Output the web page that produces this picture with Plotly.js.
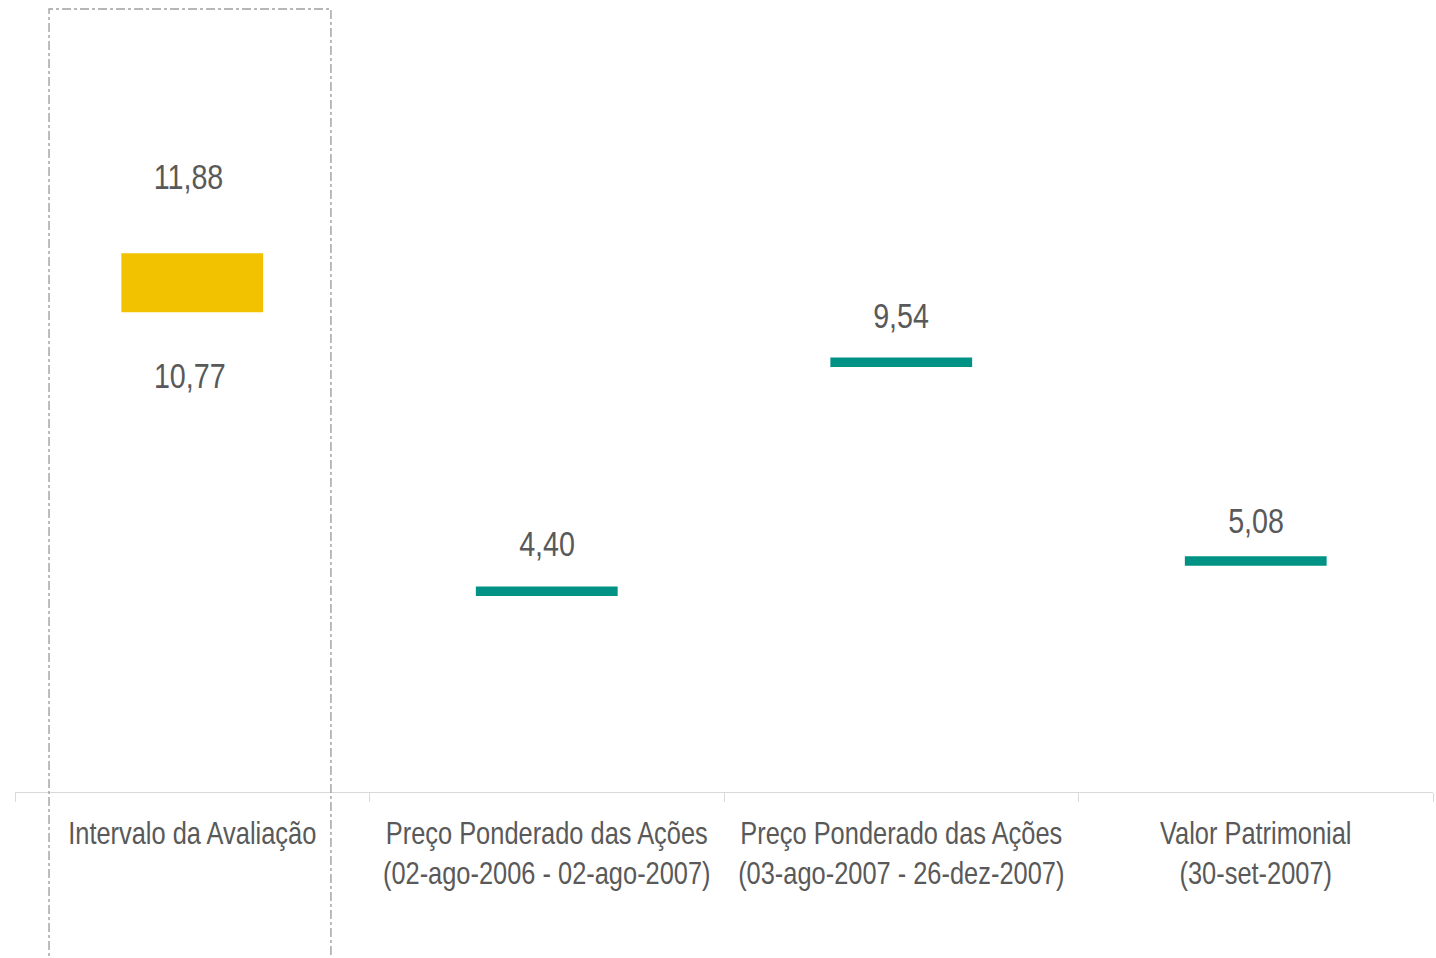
<!DOCTYPE html>
<html><head><meta charset="utf-8">
<script src="https://cdn.plot.ly/plotly-3.0.1.min.js"></script>
<style>html,body{margin:0;padding:0;background:#fff}#chart{width:1436px;height:958px}</style>
</head><body><div id="chart"></div>
<script>
// ---- data ----
const categorias = [
  "Intervalo da Avaliação",
  "Preço Ponderado das Ações<br>(02-ago-2006 - 02-ago-2007)",
  "Preço Ponderado das Ações<br>(03-ago-2007 - 26-dez-2007)",
  "Valor Patrimonial<br>(30-set-2007)"
];
const intervaloMin = [10.77];
const intervaloMax = [11.88];
const referencias = [4.40, 9.54, 5.08];

// ---- style ----
const FONT = "'Liberation Sans', Arial, sans-serif";
const GRAY = "#595959";
const GOLD = "#F2C100";
const TEAL = "#009385";
const NARROW = 0.82;   // horizontal squeeze to imitate a narrow typeface
const espessura = 0.21;
const labelShift = [43, 42, 36];
const fmt = v => v.toFixed(2).replace('.', ',');

const traces = [
  {
    type: 'bar', x: [categorias[0]], base: intervaloMin,
    y: intervaloMin.map((v, i) => intervaloMax[i] - v + espessura),
    width: 0.4, marker: {color: GOLD}, hoverinfo: 'skip'
  },
  {
    type: 'bar', x: categorias.slice(1), base: referencias,
    y: referencias.map(() => espessura),
    width: 0.4, marker: {color: TEAL}, hoverinfo: 'skip'
  }
];

const LBL = {family: FONT, size: 35, color: GRAY};
const annotations = [];
intervaloMax.forEach((v, i) => annotations.push({
  x: categorias[i], y: v + espessura, xref: 'x', yref: 'y', text: fmt(v),
  showarrow: false, yanchor: 'middle', yshift: 77, xshift: -4, font: LBL
}));
intervaloMin.forEach((v, i) => annotations.push({
  x: categorias[i], y: v, xref: 'x', yref: 'y', text: fmt(v),
  showarrow: false, yanchor: 'middle', yshift: -63, xshift: -2, font: LBL
}));
referencias.forEach((v, i) => annotations.push({
  x: categorias[i + 1], y: v + espessura, xref: 'x', yref: 'y', text: fmt(v),
  showarrow: false, yanchor: 'middle', yshift: labelShift[i], font: LBL
}));

const layout = {
  width: 1436, height: 958,
  margin: {l: 15, r: 3, t: 9, b: 166},
  paper_bgcolor: '#fff', plot_bgcolor: '#fff',
  showlegend: false, barmode: 'overlay',
  font: {family: FONT, color: GRAY},
  xaxis: {
    type: 'category', range: [-0.5, 3.5], tickson: 'boundaries', tickangle: 0,
    ticks: 'outside', ticklen: 9, tickcolor: '#d9d9d9', tickwidth: 1,
    showline: true, linecolor: '#d9d9d9', linewidth: 1,
    showgrid: false, zeroline: false, fixedrange: true,
    tickfont: {family: FONT, size: 31, color: GRAY}, ticklabelstandoff: 14
  },
  yaxis: {
    range: [0, 17.575], visible: false, showgrid: false, zeroline: false, fixedrange: true
  },
  shapes: [{
    type: 'rect', xref: 'paper', yref: 'paper',
    x0: 0.024, x1: 0.2228, y0: -0.4, y1: 1,
    line: {color: '#a0a0a0', width: 1.4, dash: 'dashdot'}, fillcolor: 'rgba(0,0,0,0)'
  }],
  annotations: annotations
};

function squeeze(gd) {
  gd.querySelectorAll('.xtick text, text.annotation-text').forEach(t => {
    const b = t.getBBox();
    const cx = b.x + b.width / 2;
    const prev = t.getAttribute('transform') || '';
    t.setAttribute('transform', prev + ` translate(${cx},0) scale(${NARROW},1) translate(${-cx},0)`);
  });
}

Plotly.newPlot('chart', traces, layout, {displayModeBar: false, staticPlot: true})
  .then(squeeze);
</script>
</body></html>
